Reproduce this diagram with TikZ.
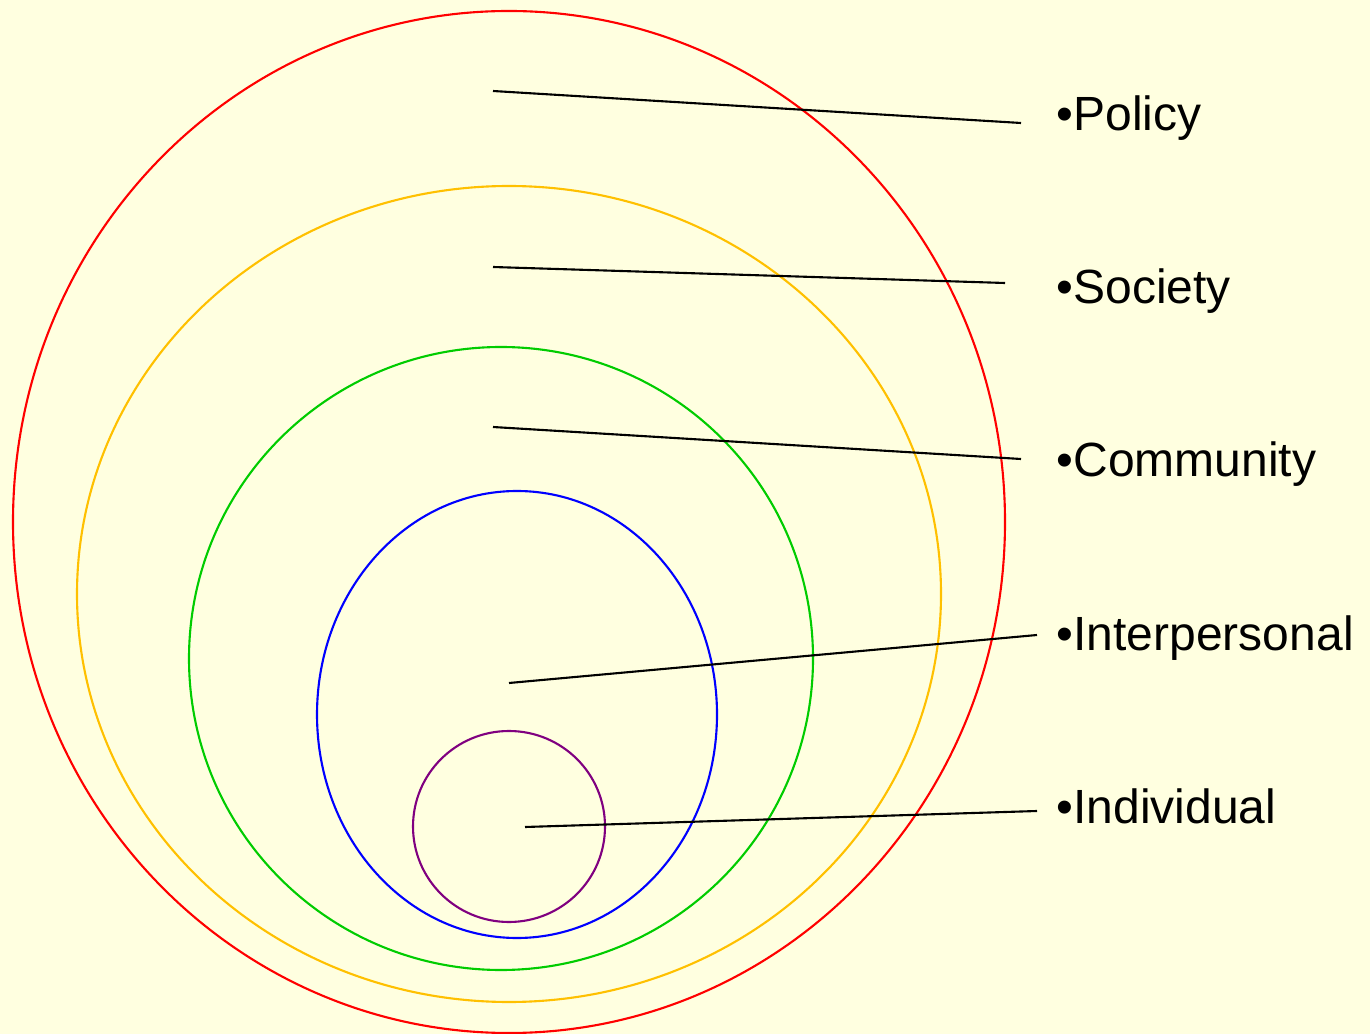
\documentclass[tikz,border=0pt]{standalone}
\usepackage{fontspec}
\setmainfont{Liberation Sans}
\definecolor{paper}{RGB}{255,255,224}
\definecolor{ringorange}{RGB}{255,192,0}
\definecolor{ringgreen}{RGB}{0,204,0}
\definecolor{ringpurple}{RGB}{128,0,128}

\begin{document}
\begin{tikzpicture}[
          x=0.01cm, y=-0.01cm,
          ring/.style={line width=0.6pt},
          leader/.style={draw, black, line width=0.6pt},
          level/.style={anchor=base west, inner sep=0pt, font=\fontsize{13.65}{16}\selectfont}
        ]
          % Background
          \fill[paper] (0,0) rectangle (1370,1034);
          \useasboundingbox (0,0) rectangle (1370,1034);

          % Nested rings, outer to inner
          \draw[ring, red] (509,522) ellipse [x radius=496, y radius=511];
          \draw[ring, ringorange] (509,594) ellipse [x radius=432, y radius=408];
          \draw[ring, ringgreen] (501,658.5) ellipse [x radius=312, y radius=311.5];
          \draw[ring, blue] (517,714.5) ellipse [x radius=200, y radius=223.5];
          \draw[ring, ringpurple] (509,826.5) ellipse [x radius=96, y radius=95.5];

          % Labels
          \node[level] (policy) at (1056,131) {•Policy};
          \node[level] (society) at (1056,304) {•Society};
          \node[level] (community) at (1056,477) {•Community};
          \node[level] (interp) at (1056,650) {•Interpersonal};
          \node[level] (indiv) at (1056,823) {•Individual};

          % Leader line ends
          \coordinate (policy-in) at (493,91);
          \coordinate (policy-out) at (1021,123);
          \coordinate (society-in) at (493,267);
          \coordinate (society-out) at (1005,283);
          \coordinate (community-in) at (493,427);
          \coordinate (community-out) at (1021,459);
          \coordinate (interp-in) at (509,683);
          \coordinate (interp-out) at (1037,635);
          \coordinate (indiv-in) at (525,827);
          \coordinate (indiv-out) at (1037,811);

          % Leader lines
          \draw[leader] (policy-in) -- (policy-out);
          \draw[leader] (society-in) -- (society-out);
          \draw[leader] (community-in) -- (community-out);
          \draw[leader] (interp-in) -- (interp-out);
          \draw[leader] (indiv-in) -- (indiv-out);

        \end{tikzpicture}
\end{document}
